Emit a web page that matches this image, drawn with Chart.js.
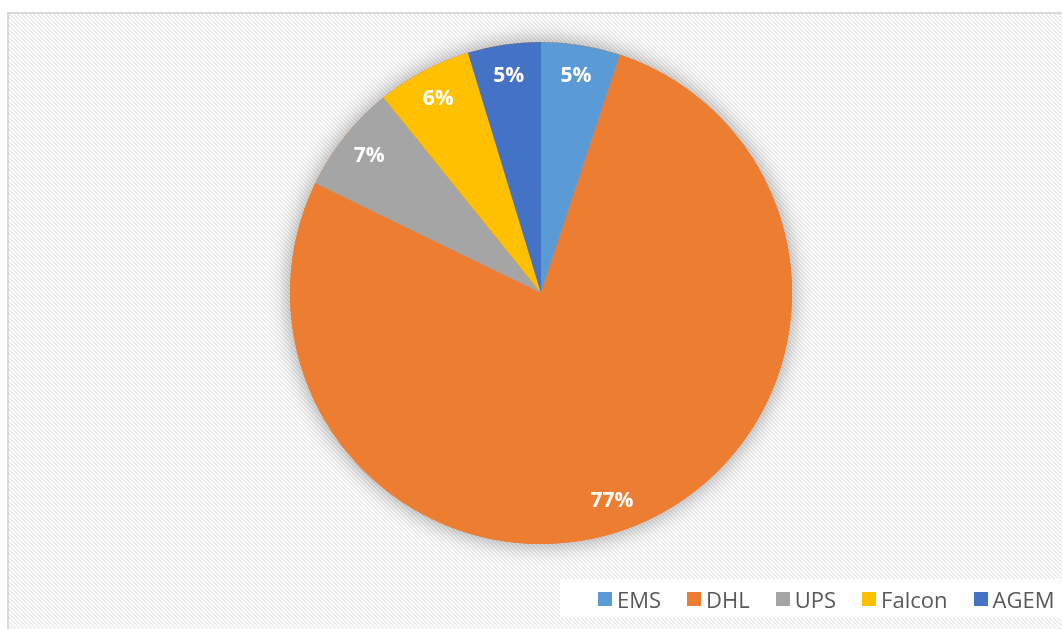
<!DOCTYPE html>
<html>
<head>
<meta charset="utf-8">
<script src="https://cdn.jsdelivr.net/npm/chart.js@4/dist/chart.umd.min.js"></script>
<style>
  html, body { margin: 0; padding: 0; width: 1062px; height: 629px; overflow: hidden; background: #fff; }
  #cadre {
    position: absolute; left: 7px; top: 12px; width: 1100px; height: 700px;
    border: 2px solid #d9d9d9; box-sizing: border-box;
  }
  #grafico { position: absolute; left: 0; top: 0; }
  #legende {
    position: absolute; left: 560px; top: 579px; width: 520px; height: 39px;
    background: rgba(255,255,255,0.92);
    display: flex; align-items: center; padding-left: 38px; box-sizing: border-box;
    font-family: "Open Sans", sans-serif; font-size: 22px; color: #595959;
  }
  .item { display: flex; align-items: center; margin-right: 26px; }
  .carre { width: 14px; height: 14px; margin-right: 5px; }
</style>
</head>
<body>
<div id="cadre"></div>
<canvas id="grafico" width="1062" height="629"></canvas>
<div id="legende"></div>
<script>
const transporteurs = ["EMS", "DHL", "UPS", "Falcon", "AGEM"];
const parts = [5.1, 77.1, 7.0, 6.1, 4.7];
const couleurs = ["#5b9bd5", "#ed7d31", "#a5a5a5", "#ffc000", "#4472c4"];

// Fond hachuré du cadre (petite tuile 4x4 en diagonale)
function motifHachure() {
  const t = document.createElement("canvas");
  t.width = 4; t.height = 4;
  const c = t.getContext("2d");
  c.fillStyle = "#ffffff";
  c.fillRect(0, 0, 4, 4);
  c.fillStyle = "#ececec";
  for (let y = 0; y < 4; y++) {
    for (let x = 0; x < 4; x++) {
      if ((x - y + 8) % 4 < 2) c.fillRect(x, y, 1, 1);
    }
  }
  return t.toDataURL();
}
document.getElementById("cadre").style.backgroundImage = `url(${motifHachure()})`;

// Ombre douce autour du camembert
const ombre = {
  id: "ombre",
  beforeDatasetsDraw(chart) {
    const arc = chart.getDatasetMeta(0).data[0];
    if (!arc) return;
    const ctx = chart.ctx;
    ctx.save();
    ctx.shadowColor = "rgba(0,0,0,0.38)";
    ctx.shadowBlur = 22;
    ctx.fillStyle = "#ed7d31";
    ctx.beginPath();
    ctx.arc(arc.x, arc.y, arc.outerRadius, 0, Math.PI * 2);
    ctx.fill();
    ctx.restore();
  }
};

// Etiquettes en pourcentage dans les parts
const etiquettes = {
  id: "etiquettes",
  afterDatasetsDraw(chart, args, opts) {
    const ctx = chart.ctx;
    const total = parts.reduce((a, b) => a + b, 0);
    ctx.save();
    ctx.font = "bold 21px 'Open Sans', sans-serif";
    ctx.fillStyle = "#ffffff";
    ctx.textAlign = "center";
    ctx.textBaseline = "middle";
    chart.getDatasetMeta(0).data.forEach((arc, i) => {
      const decal = (opts.decalage[i] || 0) * Math.PI / 180;
      const milieu = (arc.startAngle + arc.endAngle) / 2 + decal;
      const r = arc.outerRadius * 0.875;
      const x = arc.x + Math.cos(milieu) * r;
      const y = arc.y + Math.sin(milieu) * r;
      ctx.fillText(Math.round(parts[i] / total * 100) + "%", x, y);
    });
    ctx.restore();
  }
};

new Chart(document.getElementById("grafico"), {
  type: "pie",
  data: {
    labels: transporteurs,
    datasets: [{
      data: parts,
      backgroundColor: couleurs,
      borderWidth: 0
    }]
  },
  options: {
    responsive: false,
    animation: false,
    layout: { padding: { left: 290, top: 42, right: 270, bottom: 85 } },
    plugins: {
      legend: { display: false },
      tooltip: { enabled: false },
      etiquettes: { decalage: { 1: 4 } }
    }
  },
  plugins: [ombre, etiquettes]
});

// Legende
const legende = document.getElementById("legende");
transporteurs.forEach((nom, i) => {
  const item = document.createElement("div");
  item.className = "item";
  item.innerHTML = `<span class="carre" style="background:${couleurs[i]}"></span><span>${nom}</span>`;
  legende.appendChild(item);
});
</script>
</body>
</html>
